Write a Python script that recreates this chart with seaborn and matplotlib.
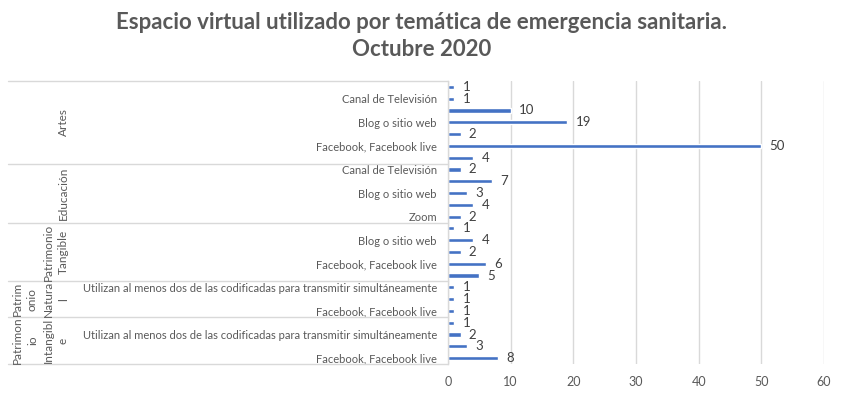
import matplotlib
matplotlib.use("Agg")
import matplotlib.pyplot as plt
import matplotlib.transforms as mtransforms
import seaborn as sns
import pandas as pd

# ---- data ----
groups = ["Artes", "Educación", "Patrimonio Tangible", "Patrimonio Natural", "Patrimonio Intangible"]
group_display = ["Artes", "Educación", "Patrimonio\nTangible",
                 "Patrim\nonio\nNatura\nl", "Patrimon\nio\nIntangibl\ne"]

artes_vals = [1, 1, 10, 19, 2, 50, 4]
educ_vals = [2, 7, 3, 4, 2]
tang_vals = [1, 4, 2, 6, 5]
nat_vals = [1, 1, 1]
intang_vals = [1, 2, 3, 8]

UT = "Utilizan al menos dos de las codificadas para transmitir simultáneamente"
artes_labels = ["", "Canal de Televisión", "", "Blog o sitio web", "", "Facebook, Facebook live", ""]
educ_labels = ["Canal de Televisión", "", "Blog o sitio web", "", "Zoom"]
tang_labels = ["", "Blog o sitio web", "", "Facebook, Facebook live", ""]
nat_labels = [UT, "", "Facebook, Facebook live"]
intang_labels = ["", UT, "", "Facebook, Facebook live"]

all_vals = [artes_vals, educ_vals, tang_vals, nat_vals, intang_vals]
all_labels = [artes_labels, educ_labels, tang_labels, nat_labels, intang_labels]

rows = []
for g, vals, labs in zip(groups, all_vals, all_labels):
    for i, (v, l) in enumerate(zip(vals, labs)):
        rows.append({"grupo": g, "clave": f"{g}|{i}", "plataforma": l, "valor": v})
df = pd.DataFrame(rows)

# ---- style ----
sns.set_theme(style="white")
FONT = ["Lato", "DejaVu Sans"]
plt.rcParams["font.family"] = FONT
GRAY = "#595959"
LINE = "#D9D9D9"

W, H = 843, 394
fig = plt.figure(figsize=(W / 100, H / 100), dpi=100)
ax_l, ax_r, ax_t, ax_b = 448, 824, 81, 364
ax = fig.add_axes([ax_l / W, 1 - ax_b / H, (ax_r - ax_l) / W, (ax_b - ax_t) / H])

sns.barplot(data=df, x="valor", y="clave", orient="h", color="#4472C4",
            saturation=1, width=0.35, ax=ax, errorbar=None)

n = len(df)
ax.set_ylim(n - 0.5, -0.5)
ax.set_xlim(0, 60)
ax.set_xticks(range(0, 61, 10))
ax.set_yticks(range(n))
ax.set_yticklabels(df["plataforma"].tolist())
ax.tick_params(axis="y", length=0, pad=8, labelsize=8, labelcolor=GRAY)
ax.tick_params(axis="x", length=0, pad=9, labelsize=9, labelcolor=GRAY)
ax.set_xlabel("")
ax.set_ylabel("")
ax.grid(axis="x", color=LINE, linewidth=1)
ax.set_axisbelow(True)
for s in ["top", "right", "bottom"]:
    ax.spines[s].set_visible(False)
ax.spines["left"].set_color(LINE)
ax.spines["left"].set_linewidth(1)

# data labels
ax.bar_label(ax.containers[0], labels=[str(v) for v in df["valor"]],
             padding=6, fontsize=9.5, color="#404040")

# group separators and labels
trans = mtransforms.blended_transform_factory(ax.transAxes, ax.transData)
x0 = (8 - ax_l) / (ax_r - ax_l)
bounds = [-0.5]
cnt = 0
for vals in all_vals:
    cnt += len(vals)
    bounds.append(cnt - 0.5)
for b in bounds:
    ax.plot([x0, 0], [b, b], transform=trans, color=LINE, linewidth=1, clip_on=False)

xg = (69 - ax_l) / (ax_r - ax_l)
for i, gd in enumerate(group_display):
    center = (bounds[i] + bounds[i + 1]) / 2
    ax.text(xg, center, gd, transform=trans, rotation=90, ha="right", va="center",
            multialignment="center", fontsize=8.5, color=GRAY, linespacing=1.5)

fig.suptitle("Espacio virtual utilizado por temática de emergencia sanitaria.\nOctubre 2020",
             x=0.5, y=1 - 12 / H, va="top", fontsize=16, fontweight="bold", color=GRAY,
             linespacing=1.38)

fig.savefig("out.png", dpi=100)
